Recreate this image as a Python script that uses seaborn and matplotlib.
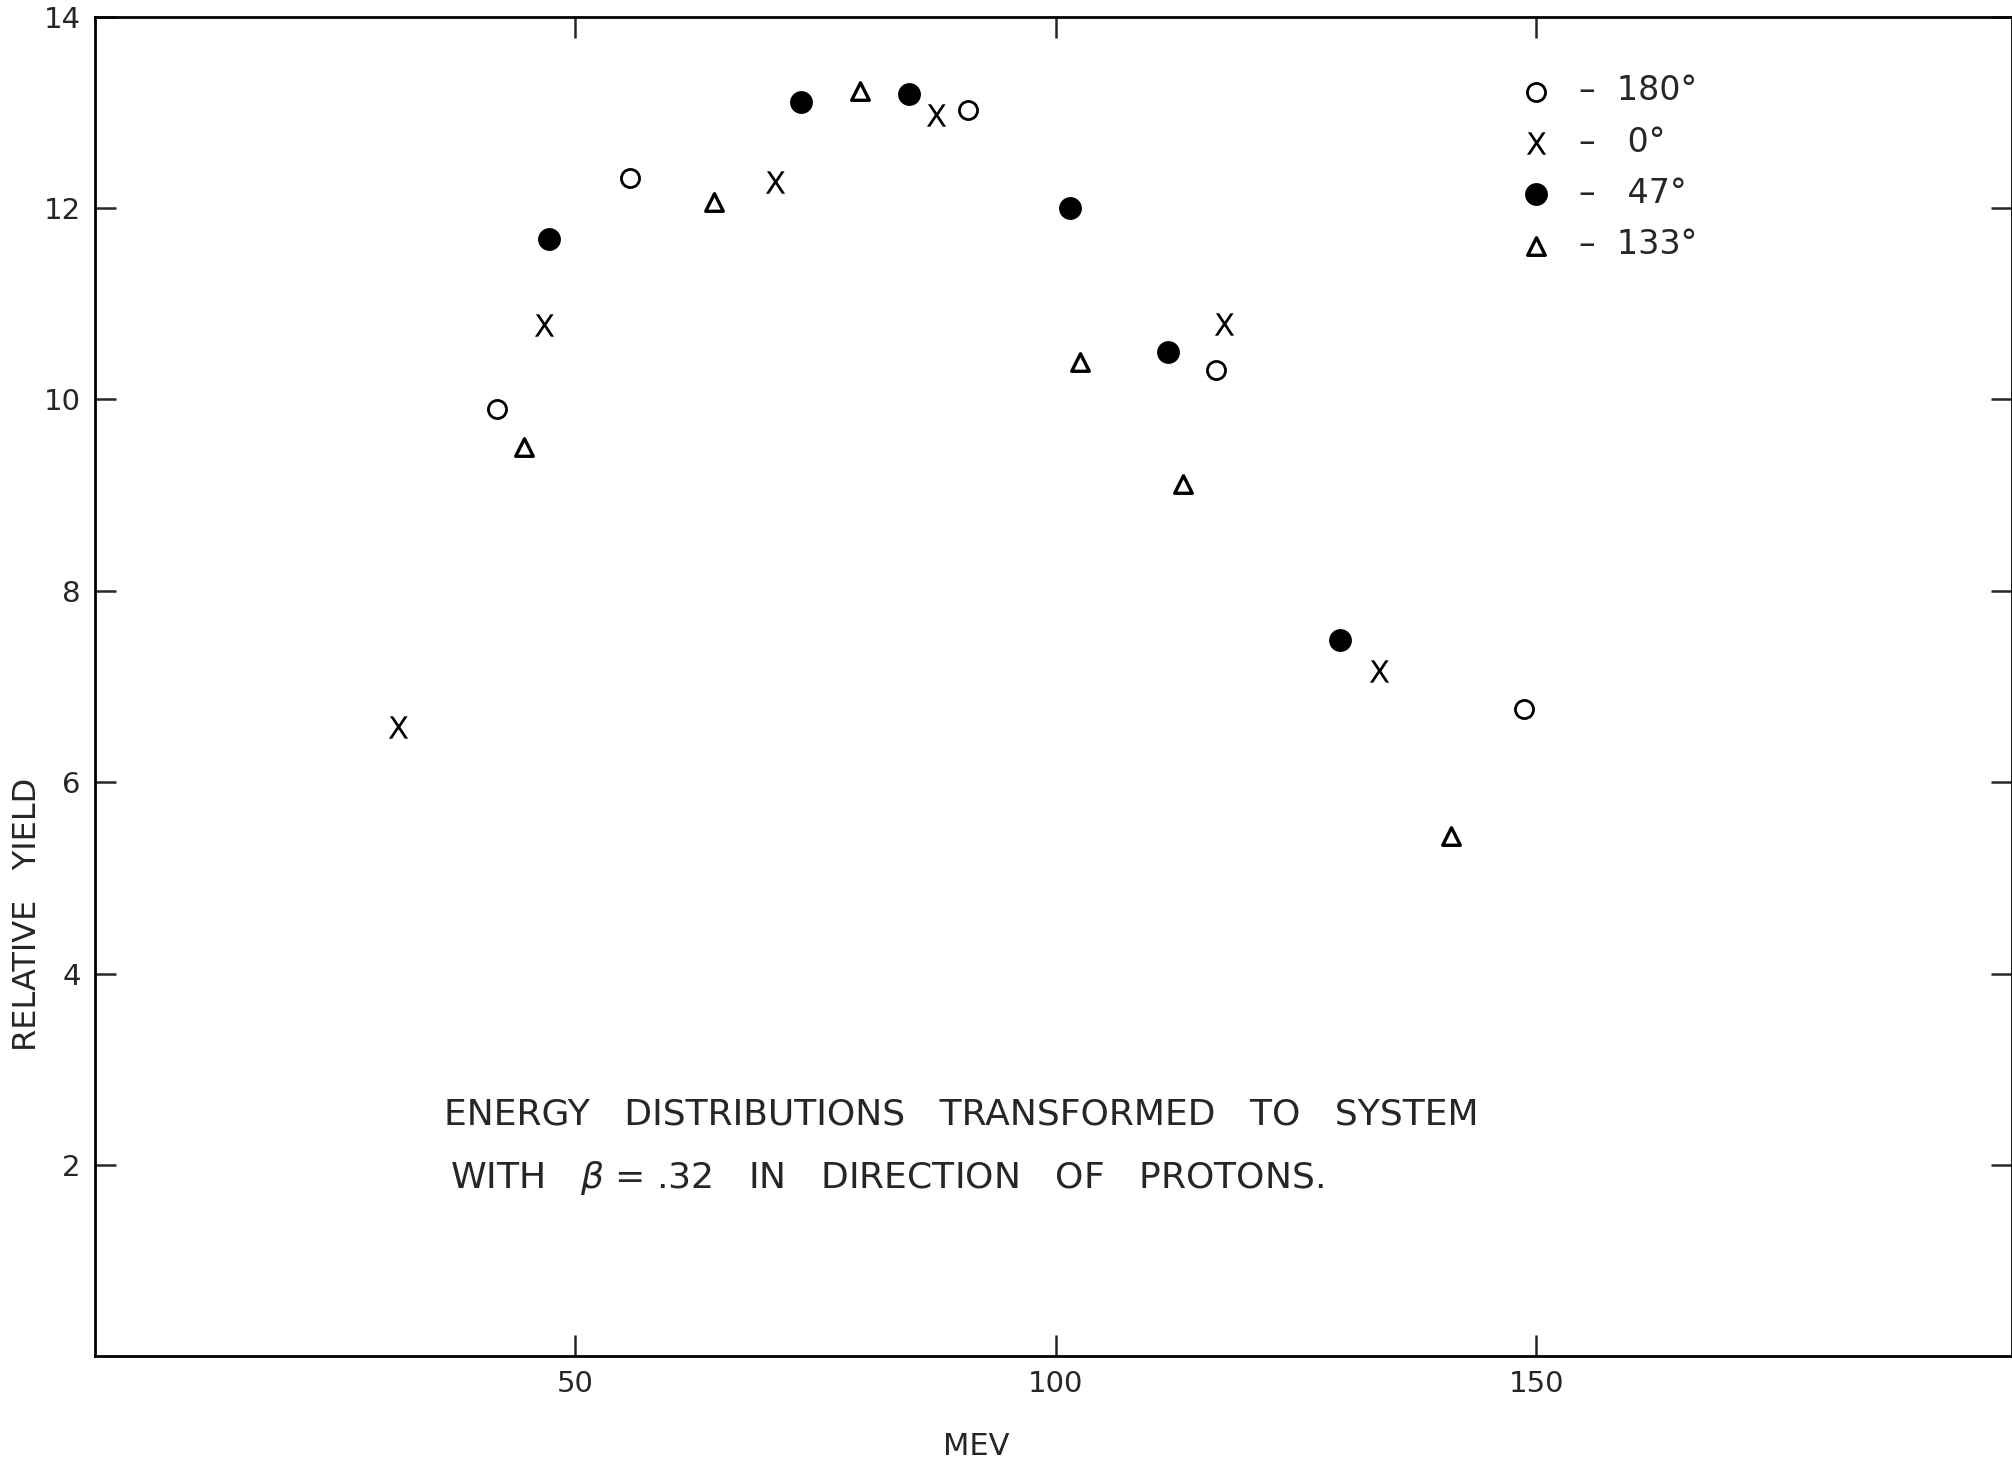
import matplotlib
matplotlib.use("Agg")
import matplotlib.pyplot as plt
import seaborn as sns

# ── data ─────────────────────────────────────────────────────────
x_180 = [41.9, 55.7, 90.9, 116.7, 148.7]
y_180 = [9.9, 12.31, 13.02, 10.31, 6.77]

x_0 = [31.6, 46.8, 70.8, 87.5, 117.5, 133.6]
y_0 = [6.58, 10.78, 12.27, 12.97, 10.79, 7.16]

x_47 = [47.3, 73.5, 84.7, 101.5, 111.7, 129.6]
y_47 = [11.68, 13.11, 13.19, 12.0, 10.5, 7.49]

x_133 = [44.7, 64.5, 79.6, 102.5, 113.2, 141.1]
y_133 = [9.5, 12.06, 13.22, 10.39, 9.12, 5.44]

legend_labels = ["–  180°", "–   0°", "–   47°", "–  133°"]
x_ticks = [50, 100, 150]
y_ticks = [2, 4, 6, 8, 10, 12, 14]
note_1 = "ENERGY   DISTRIBUTIONS   TRANSFORMED   TO   SYSTEM"
note_2 = "WITH   $\\beta$ = .32   IN   DIRECTION   OF   PROTONS."

sns.set_style("ticks")
plt.rcParams["font.family"] = ["DejaVu Sans"]
plt.rcParams["mathtext.fontset"] = "dejavusans"

fig = plt.figure(figsize=(20.12, 14.63), dpi=100)
ax = fig.add_axes([0.047, 0.0728, 0.953, 0.9158])

sns.scatterplot(x=x_180, y=y_180, marker="o", s=170, facecolor="white",
                edgecolor="black", linewidth=2.0, ax=ax, label=legend_labels[0])
sns.scatterplot(x=x_0, y=y_0, marker="$\\mathsf{X}$", s=260, color="black",
                linewidth=0, ax=ax, label=legend_labels[1])
sns.scatterplot(x=x_47, y=y_47, marker="o", s=270, color="black",
                edgecolor="black", linewidth=0, ax=ax, label=legend_labels[2])
sns.scatterplot(x=x_133, y=y_133, marker="^", s=160, facecolor="white",
                edgecolor="black", linewidth=2.4, ax=ax, label=legend_labels[3])

ax.set_xlim(0, 199.5)
ax.set_ylim(0, 14)
ax.set_xticks(x_ticks)
ax.set_yticks(y_ticks)
ax.tick_params(axis="both", direction="in", length=15, width=1.8,
               labelsize=21, top=True, right=True, pad=10)
for side in ["left", "bottom", "top", "right"]:
    ax.spines[side].set_linewidth(2)
    ax.spines[side].set_color("black")

ax.set_xlabel("MEV", fontsize=22)
ax.xaxis.set_label_coords(0.46, -0.056)
ax.set_ylabel("RELATIVE   YIELD", fontsize=23)
ax.yaxis.set_label_coords(-0.027, 0.33)

ax.text(36.4, 2.53, note_1, fontsize=26, va="center", ha="left")
ax.text(37.0, 1.86, note_2, fontsize=26, va="center", ha="left")

handles, labels = ax.get_legend_handles_labels()
ax.legend(handles, labels, loc="upper left", bbox_to_anchor=(0.743, 0.957),
          frameon=False, fontsize=24, handlelength=1.0, handletextpad=0.8,
          labelspacing=0.55, borderpad=0, borderaxespad=0)

fig.savefig("out.png", dpi=100)
